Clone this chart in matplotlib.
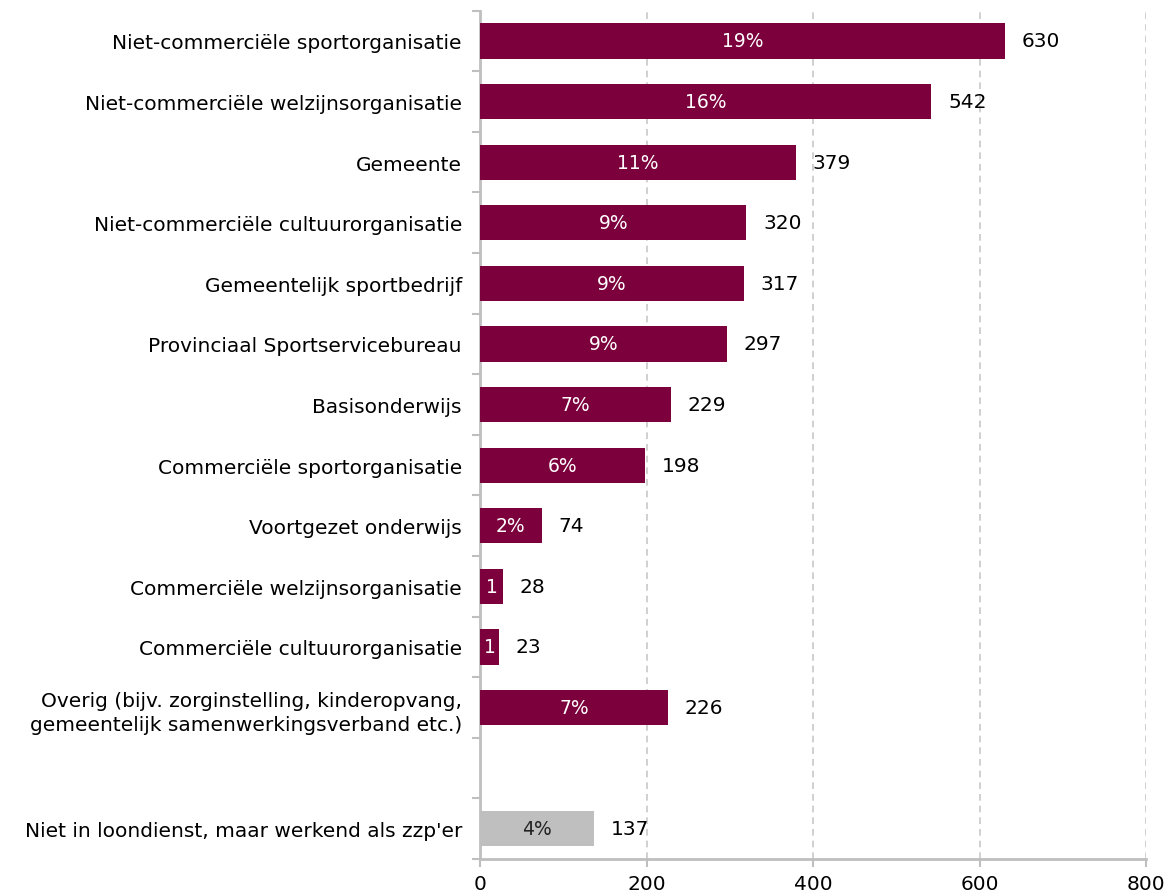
import matplotlib.pyplot as plt
import numpy as np

categories = [
    "Niet-commerciële sportorganisatie",
    "Niet-commerciële welzijnsorganisatie",
    "Gemeente",
    "Niet-commerciële cultuurorganisatie",
    "Gemeentelijk sportbedrijf",
    "Provinciaal Sportservicebureau",
    "Basisonderwijs",
    "Commerciële sportorganisatie",
    "Voortgezet onderwijs",
    "Commerciële welzijnsorganisatie",
    "Commerciële cultuurorganisatie",
    "Overig (bijv. zorginstelling, kinderopvang,\ngemeentelijk samenwerkingsverband etc.)",
    "",
    "Niet in loondienst, maar werkend als zzp'er",
]
values = [630, 542, 379, 320, 317, 297, 229, 198, 74, 28, 23, 226, np.nan, 137]
pct_labels = ["19%", "16%", "11%", "9%", "9%", "9%", "7%", "6%", "2%", "1", "1", "7%", "", "4%"]

maroon = "#7B003C"
grey = "#BFBFBF"
colors = [maroon] * 12 + ["white", grey]

fig = plt.figure(figsize=(11.75, 8.95), dpi=100)
ax = fig.add_axes([0.4085, 0.039, 0.567, 0.948])

y = np.arange(len(categories))
vals = np.nan_to_num(np.array(values, dtype=float))
ax.barh(y, vals, height=0.58, color=colors, zorder=3)

for i, v in enumerate(values):
    if np.isnan(v):
        continue
    tc = "white" if colors[i] == maroon else "#222222"
    ax.text(v / 2, i, pct_labels[i], ha="center", va="center", color=tc, fontsize=13.5, zorder=4)
    ax.text(v + 20, i, str(int(v)), ha="left", va="center", color="black", fontsize=14.5, zorder=4)

ax.set_xlim(0, 800)
ax.set_ylim(len(categories) - 0.5, -0.5)
ax.set_xticks([0, 200, 400, 600, 800])
ax.tick_params(axis="x", labelsize=14.5, color="#BFBFBF", length=6, width=1.5, pad=5)
ax.set_yticks(y)
ax.set_yticklabels(categories, fontsize=14.5, linespacing=1.35)
ax.tick_params(axis="y", length=0, pad=13)
# boundary ticks between categories
ax.set_yticks(np.arange(-0.5, len(categories) - 0.4, 1), minor=True)
ax.tick_params(axis="y", which="minor", length=6, width=1.5, color="#BFBFBF")

ax.grid(axis="x", linestyle=(0, (4, 3)), color="#C8C8C8", linewidth=1.2, zorder=0)
for s in ["top", "right"]:
    ax.spines[s].set_visible(False)
for s in ["left", "bottom"]:
    ax.spines[s].set_color("#BFBFBF")
    ax.spines[s].set_linewidth(2)

fig.savefig("out.png", dpi=100)
